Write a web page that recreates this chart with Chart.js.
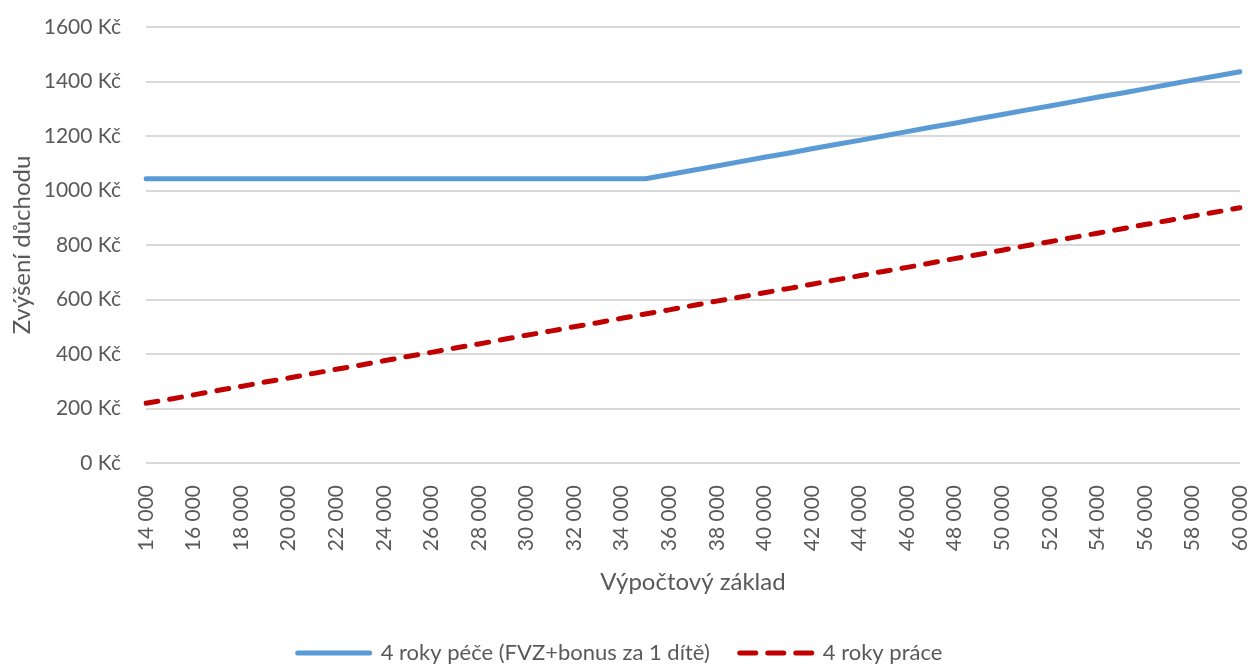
<!DOCTYPE html>
<html>
<head>
<meta charset="utf-8">
<script src="https://cdn.jsdelivr.net/npm/chart.js@4.4.1/dist/chart.umd.min.js"></script>
<style>
  html, body { margin: 0; padding: 0; background: #fff; }
  #wrap { width: 1248px; height: 664px; }
</style>
</head>
<body>
<div id="wrap"><canvas id="chart" width="1248" height="664"></canvas></div>
<script>
// výpočtový základ, krok 1000 Kč
const categories = [
    14000, 15000, 16000, 17000, 18000, 19000, 20000, 21000, 22000, 23000,
    24000, 25000, 26000, 27000, 28000, 29000, 30000, 31000, 32000, 33000,
    34000, 35000, 36000, 37000, 38000, 39000, 40000, 41000, 42000, 43000,
    44000, 45000, 46000, 47000, 48000, 49000, 50000, 51000, 52000, 53000,
    54000, 55000, 56000, 57000, 58000, 59000, 60000
];

const pecePlusBonus = [
    1043, 1043, 1043, 1043, 1043, 1043, 1043, 1043, 1043, 1043,
    1043, 1043, 1043, 1043, 1043, 1043, 1043, 1043, 1043, 1043,
    1043, 1043, 1059, 1074, 1090, 1106, 1122, 1137, 1153, 1169,
    1184, 1200, 1216, 1232, 1247, 1263, 1279, 1295, 1310, 1326,
    1342, 1357, 1373, 1389, 1405, 1420, 1436
];

const prace = [
    219, 234, 250, 266, 281, 297, 312, 328, 344, 359,
    375, 391, 406, 422, 437, 453, 469, 484, 500, 515,
    531, 547, 562, 578, 594, 609, 625, 640, 656, 672,
    687, 703, 718, 734, 750, 765, 781, 797, 812, 828,
    843, 859, 875, 890, 906, 921, 937
];

const seriesNames = ['4 roky péče (FVZ+bonus za 1 dítě)', '4 roky práce'];
const yTicks = [0, 200, 400, 600, 800, 1000, 1200, 1400, 1600];

const textColor = '#595959';
const fontFamily = 'Lato, "Open Sans", sans-serif';

const fmtThousands = (v) => String(v).replace(/\B(?=(\d{3})+(?!\d))/g, ' ');

const ctx = document.getElementById('chart');

new Chart(ctx, {
    type: 'line',
    data: {
        labels: categories.map(fmtThousands),
        datasets: [
            {
                label: seriesNames[0],
                data: pecePlusBonus,
                borderColor: '#5B9BD5',
                backgroundColor: '#5B9BD5',
                borderWidth: 5,
                borderCapStyle: 'round',
                borderJoinStyle: 'round',
                pointRadius: 0,
                tension: 0
            },
            {
                label: seriesNames[1],
                data: prace,
                borderColor: '#C00000',
                backgroundColor: '#C00000',
                borderWidth: 5,
                borderDash: [12, 12],
                borderCapStyle: 'round',
                pointRadius: 0,
                tension: 0
            }
        ]
    },
    options: {
        responsive: false,
        animation: false,
        layout: { padding: { left: 0, right: 8, top: 27, bottom: -10 } },
        plugins: {
            tooltip: { enabled: false },
            legend: {
                position: 'bottom',
                labels: {
                    usePointStyle: true,
                    pointStyle: 'line',
                    pointStyleWidth: 72,
                    padding: 30,
                    color: textColor,
                    font: { family: fontFamily, size: 22 },
                    generateLabels: (chart) => {
                        const items = Chart.defaults.plugins.legend.labels.generateLabels(chart);
                        items.forEach(item => {
                            const ds = chart.data.datasets[item.datasetIndex];
                            item.lineDash = ds.borderDash ? [16, 12] : [];
                            item.lineCap = 'round';
                            item.lineWidth = 5;
                        });
                        return items;
                    }
                }
            }
        },
        scales: {
            x: {
                offset: false,
                grid: { display: false, drawTicks: false },
                border: { display: false },
                afterFit: (scale) => {
                    scale.paddingRight = 0;
                    scale.paddingLeft = 0;
                    scale.height = 149;
                },
                ticks: {
                    autoSkip: false,
                    maxRotation: 90,
                    minRotation: 90,
                    padding: 22,
                    color: textColor,
                    font: { family: fontFamily, size: 21 },
                    callback: function (value, index) {
                        return index % 2 === 0 ? this.getLabelForValue(value) : '';
                    }
                },
                title: {
                    display: true,
                    text: 'Výpočtový základ',
                    color: textColor,
                    font: { family: fontFamily, size: 24 },
                    padding: { top: 19, bottom: 15 }
                }
            },
            y: {
                min: yTicks[0],
                max: yTicks[yTicks.length - 1],
                grid: { color: '#D9D9D9', lineWidth: 2, drawTicks: false },
                border: { display: false },
                afterBuildTicks: (axis) => { axis.ticks = yTicks.map(v => ({ value: v })); },
                afterFit: (scale) => {
                    scale.width = 146;
                    scale.paddingTop = 0;
                    scale.paddingBottom = 0;
                },
                ticks: {
                    padding: 25,
                    color: textColor,
                    font: { family: fontFamily, size: 21 },
                    callback: (v) => v + ' Kč'
                },
                title: {
                    display: true,
                    text: 'Zvýšení důchodu',
                    color: textColor,
                    font: { family: fontFamily, size: 24 },
                    padding: { top: 8, bottom: 9 }
                }
            }
        }
    }
});
</script>
</body>
</html>
